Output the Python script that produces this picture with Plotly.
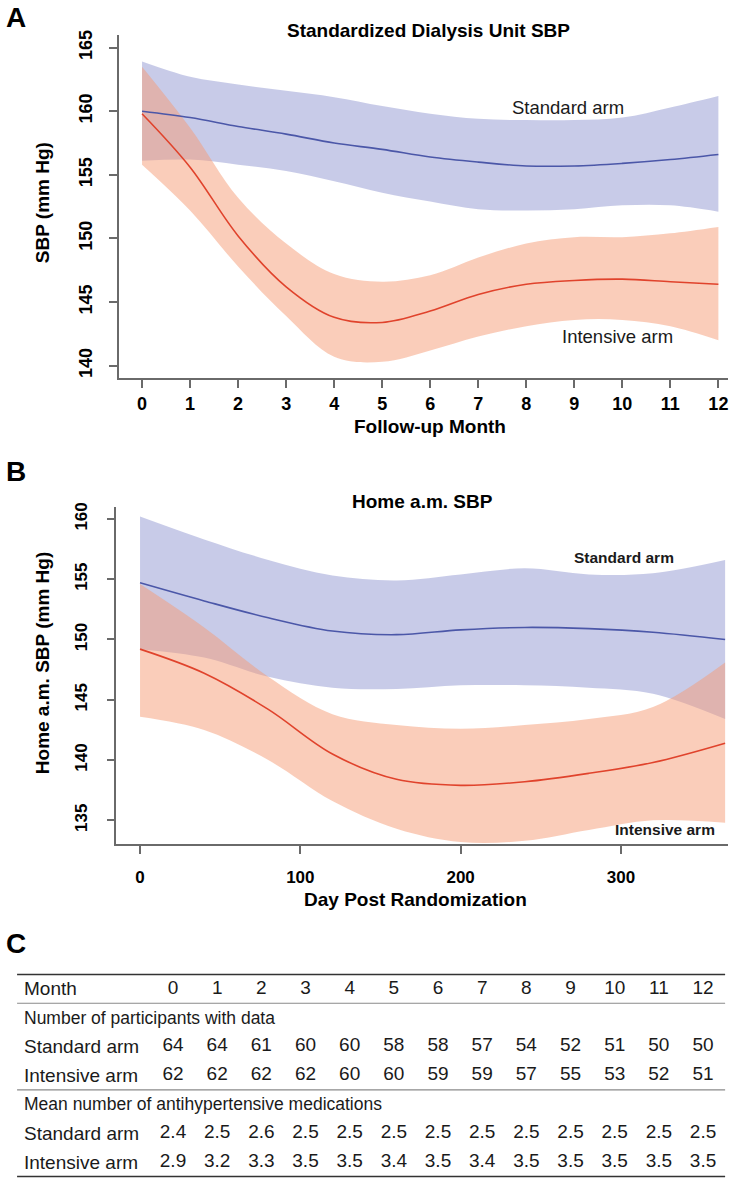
import plotly.graph_objects as go

W, H = 733, 1185
FONT = "Liberation Sans, Arial, sans-serif"
NARROW = "Liberation Sans Narrow, Arial Narrow, Liberation Sans, sans-serif"

# Panel A: standardized dialysis unit SBP by follow-up month
months = [0, 1, 2, 3, 4, 5, 6, 7, 8, 9, 10, 11, 12]
a_std_mean = [160.0, 159.5, 158.8, 158.2, 157.5, 157.0, 156.4, 156.0, 155.7, 155.7, 155.9, 156.2, 156.6]
a_std_upper = [163.9, 162.7, 162.1, 161.6, 161.1, 160.4, 159.8, 159.4, 159.3, 159.3, 159.5, 160.3, 161.2]
a_std_lower = [156.1, 156.2, 155.8, 155.3, 154.5, 153.6, 152.9, 152.3, 152.2, 152.3, 152.6, 152.6, 152.1]
a_int_mean = [159.8, 155.6, 150.2, 146.2, 143.8, 143.4, 144.3, 145.6, 146.4, 146.7, 146.8, 146.6, 146.4]
a_int_upper = [163.5, 158.7, 153.2, 149.6, 147.2, 146.6, 147.1, 148.5, 149.6, 150.1, 150.1, 150.4, 150.9]
a_int_lower = [155.8, 152.2, 147.8, 143.9, 140.7, 140.3, 141.2, 142.3, 143.1, 143.6, 143.6, 143.1, 142.0]

# Panel B: home a.m. SBP by day post randomization
days = [0, 40, 80, 120, 160, 200, 240, 280, 320, 365]
b_std_mean = [154.7, 153.2, 151.8, 150.7, 150.4, 150.8, 151.0, 150.9, 150.6, 150.0]
b_std_upper = [160.2, 158.3, 156.6, 155.3, 154.9, 155.4, 155.9, 155.4, 155.5, 156.6]
b_std_lower = [149.2, 148.5, 146.9, 146.0, 145.9, 146.2, 146.2, 146.0, 145.5, 143.4]
b_int_mean = [149.2, 147.2, 144.2, 140.5, 138.4, 137.9, 138.2, 138.9, 139.8, 141.4]
b_int_upper = [154.6, 151.0, 146.9, 143.8, 142.9, 142.6, 142.9, 143.4, 144.4, 148.1]
b_int_lower = [143.6, 142.5, 140.0, 136.6, 134.3, 133.2, 133.3, 134.2, 135.0, 134.8]

# Panel C: table
table_months = [0, 1, 2, 3, 4, 5, 6, 7, 8, 9, 10, 11, 12]
std_n = [64, 64, 61, 60, 60, 58, 58, 57, 54, 52, 51, 50, 50]
int_n = [62, 62, 62, 62, 60, 60, 59, 59, 57, 55, 53, 52, 51]
std_meds = [2.4, 2.5, 2.6, 2.5, 2.5, 2.5, 2.5, 2.5, 2.5, 2.5, 2.5, 2.5, 2.5]
int_meds = [2.9, 3.2, 3.3, 3.5, 3.5, 3.4, 3.5, 3.4, 3.5, 3.5, 3.5, 3.5, 3.5]

BLUE_FILL = "rgba(145,151,209,0.5)"
RED_FILL = "rgba(245,155,118,0.5)"
BLUE_LINE = "#4b57a8"
RED_LINE = "#e0432c"
AXIS_GRAY = "#6a6a6a"


def px_x(p):
    return p / W


def px_y(p):
    return 1 - p / H


def add_panel(fig, x, std_u, std_l, std_m, int_u, int_l, int_m, xa, ya):
    common = dict(xaxis=xa, yaxis=ya, mode="lines", line_shape="spline",
                  showlegend=False, hoverinfo="skip")
    fig.add_trace(go.Scatter(x=x, y=std_u, line=dict(width=0), **common))
    fig.add_trace(go.Scatter(x=x, y=std_l, line=dict(width=0), fill="tonexty",
                             fillcolor=BLUE_FILL, **common))
    fig.add_trace(go.Scatter(x=x, y=int_u, line=dict(width=0), **common))
    fig.add_trace(go.Scatter(x=x, y=int_l, line=dict(width=0), fill="tonexty",
                             fillcolor=RED_FILL, **common))
    fig.add_trace(go.Scatter(x=x, y=std_m, line=dict(width=1.6, color=BLUE_LINE), **common))
    fig.add_trace(go.Scatter(x=x, y=int_m, line=dict(width=1.6, color=RED_LINE), **common))


fig = go.Figure()
add_panel(fig, months, a_std_upper, a_std_lower, a_std_mean,
          a_int_upper, a_int_lower, a_int_mean, "x", "y")
add_panel(fig, days, b_std_upper, b_std_lower, b_std_mean,
          b_int_upper, b_int_lower, b_int_mean, "x2", "y2")

# table cells on a hidden axis: columns = months, rows = index
row_month, row_n_head, row_n_std, row_n_int, row_m_head, row_m_std, row_m_int = range(7)
cell_font = dict(family=FONT, size=19, color="#1a1a1a")
for row, vals, fmt in [(row_month, table_months, "{}"),
                       (row_n_std, std_n, "{}"), (row_n_int, int_n, "{}"),
                       (row_m_std, std_meds, "{:.1f}"), (row_m_int, int_meds, "{:.1f}")]:
    fig.add_trace(go.Scatter(x=table_months, y=[row] * len(vals), mode="text",
                             text=[fmt.format(v) for v in vals], textposition="middle center",
                             textfont=cell_font, xaxis="x3", yaxis="y3",
                             showlegend=False, hoverinfo="skip"))

label_x = -3.42
annotations = []
for row, label, size in [(row_month, "Month", 19),
                         (row_n_head, "Number of participants with data", 17.5),
                         (row_n_std, "Standard arm", 19), (row_n_int, "Intensive arm", 19),
                         (row_m_head, "Mean number of antihypertensive medications", 17.5),
                         (row_m_std, "Standard arm", 19), (row_m_int, "Intensive arm", 19)]:
    annotations.append(dict(x=label_x, y=row, xref="x3", yref="y3", text=label,
                            showarrow=False, xanchor="left", yanchor="middle",
                            font=dict(family=FONT, size=size, color="#1a1a1a")))

line_x0, line_x1 = -3.53, 12.5
shapes = []
for yv, color, width in [(-0.5, "#333333", 1.5), (0.5, "#8a8a8a", 1.2),
                         (3.5, "#8a8a8a", 1.2), (6.5, "#333333", 1.5)]:
    shapes.append(dict(type="line", xref="x3", yref="y3", x0=line_x0, x1=line_x1,
                       y0=yv, y1=yv, line=dict(color=color, width=width)))


# panel letters, titles, axis titles
def txt(x, y, text, size, bold=True, angle=0, family=FONT):
    s = f"<b>{text}</b>" if bold else text
    return dict(x=px_x(x), y=px_y(y), xref="paper", yref="paper", text=s, showarrow=False,
                xanchor="center", yanchor="middle", textangle=angle, yshift=4,
                font=dict(family=family, size=size, color="black"))


annotations += [
    txt(16, 17, "A", 28), txt(16, 472, "B", 28), txt(16, 946, "C", 28),
    txt(428, 30, "Standardized Dialysis Unit SBP", 19),
    txt(422, 503, "Home a.m. SBP", 19),
    txt(42, 203, "SBP (mm Hg)", 19, angle=-90),
    txt(42, 665, "Home a.m. SBP (mm Hg)", 19, angle=-90),
    txt(430, 427, "Follow-up Month", 19),
    txt(415, 902, "Day Post Randomization", 19),
]

# in-plot arm labels
arm_font = dict(family=FONT, size=18.5, color="#1a1a1a")
arm_font_b = dict(family=FONT, size=15.5, color="#1a1a1a")
annotations += [
    dict(x=8.87, y=160.0, xref="x", yref="y", text="Standard arm", showarrow=False,
         yshift=4, font=arm_font),
    dict(x=9.89, y=142.0, xref="x", yref="y", text="Intensive arm", showarrow=False,
         yshift=4, font=arm_font),
    dict(x=302, y=156.5, xref="x2", yref="y2", text="<b>Standard arm</b>", showarrow=False,
         yshift=4, font=arm_font_b),
    dict(x=360, y=133.9, xref="x2", yref="y2", text="<b>Intensive arm</b>", showarrow=False,
         xanchor="right", yshift=4, font=arm_font_b),
]

axis_common = dict(showline=True, linecolor=AXIS_GRAY, linewidth=1.5, ticks="outside",
                   tickcolor=AXIS_GRAY, tickwidth=1.5, showgrid=False, zeroline=False,
                   fixedrange=True)
tick_a = dict(family=FONT, size=18, color="black", weight="bold")
tick_b = dict(family=NARROW, size=17, color="black", weight="bold")

fig.update_layout(
    width=W, height=H,
    margin=dict(l=0, r=0, t=0, b=0),
    paper_bgcolor="white", plot_bgcolor="white",
    xaxis=dict(domain=[px_x(119), px_x(728)], range=[-0.48, 12.2], anchor="y",
               tickvals=months, ticklen=8, ticklabelstandoff=0,
               tickfont=tick_a, **axis_common),
    yaxis=dict(domain=[px_y(375), px_y(30)], range=[139, 166], anchor="x",
               tickvals=[140, 145, 150, 155, 160, 165], ticklen=8, tickangle=-90,
               ticklabelstandoff=10, tickfont=tick_a, **axis_common),
    xaxis2=dict(domain=[px_x(116), px_x(728)], range=[-15, 366.8], anchor="y2",
                tickvals=[0, 100, 200, 300], ticklen=8, ticklabelstandoff=8,
                tickfont=tick_b, **axis_common),
    yaxis2=dict(domain=[px_y(843), px_y(504)], range=[133, 161], anchor="x2",
                tickvals=[135, 140, 145, 150, 155, 160], ticklen=7, tickangle=-90,
                ticklabelstandoff=13, tickfont=tick_b, **axis_common),
    xaxis3=dict(domain=[0, 1], range=[-173 / 44.17, (W - 173) / 44.17], visible=False,
                anchor="y3", fixedrange=True),
    yaxis3=dict(domain=[0, px_y(960)], range=[(H - 988) / 29, (960 - 988) / 29],
                visible=False, anchor="x3", fixedrange=True),
    annotations=annotations,
    shapes=shapes,
)

# the page body has a default 8px margin; drop it so the figure fills the window
fig.write_html("out.html", config={"displayModeBar": False},
               post_script="document.body.style.margin='0';")
